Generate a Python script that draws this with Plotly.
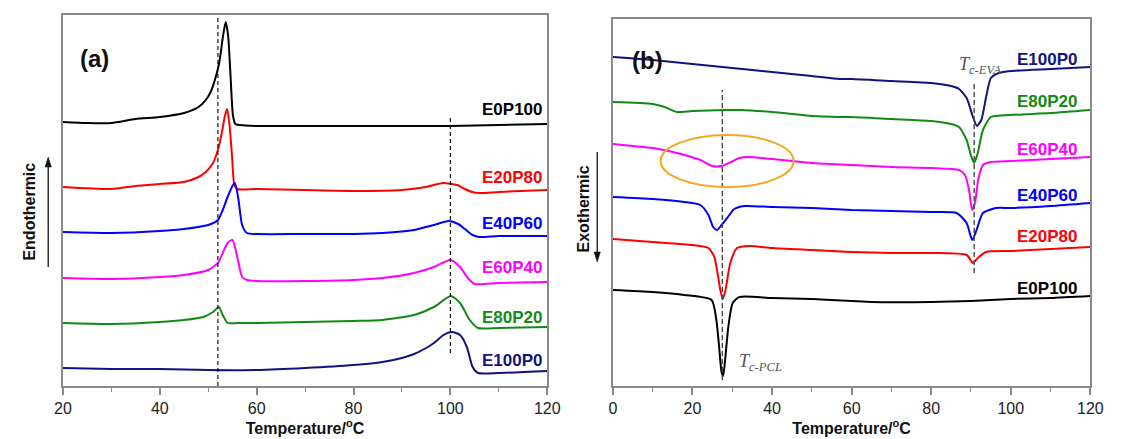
import plotly.graph_objects as go

# ---------------- Panel (a): heating (melting) curves ----------------
a_T_E0P100 = [20, 25, 30, 35, 40, 45, 48, 49.5, 50.5, 51.5, 52.3, 53, 53.6, 54.1, 54.6, 55.1, 55.6, 56.5, 60, 70, 80, 90, 100, 110, 120]
a_H_E0P100 = [264, 263, 263, 267, 269, 273, 279, 286, 294, 308, 324, 348, 364, 351, 311, 271, 262, 261, 260, 260, 260, 260, 260, 261, 262]

a_T_E20P80 = [20, 30, 35, 40, 45, 48, 49.5, 51, 52, 52.8, 53.4, 53.9, 54.4, 54.9, 55.4, 56, 60, 70, 80, 90, 95, 98.5, 101.4, 103, 104.5, 106, 110, 120]
a_H_E20P80 = [199, 197, 200, 202, 204, 209, 214, 223, 236, 253, 269, 277, 261, 231, 201, 197, 197, 196, 195, 196, 199, 203, 201, 197, 194, 193, 194, 196]

a_T_E40P60 = [20, 30, 40, 45, 50, 52, 53, 54, 55, 55.5, 56.2, 57, 58, 60, 70, 80, 86, 92.5, 96.6, 99.6, 101.6, 103, 104.6, 106, 110, 120]
a_H_E40P60 = [154, 153, 155, 157, 161, 166, 176, 189, 200, 203, 188, 161, 153, 152, 152, 152, 153, 156, 161, 165, 162, 157, 151, 149, 150, 150]

a_T_E60P40 = [20, 30, 40, 45, 50, 52, 53, 54, 55, 56, 57, 58, 60, 70, 80, 86, 92.5, 96.6, 100, 102, 103.6, 105, 110, 120]
a_H_E60P40 = [108, 107, 109, 111, 116, 123, 133, 143, 146, 129, 109, 106, 105, 105, 106, 108, 113, 119, 126, 119, 108, 102, 103, 104]

a_T_E80P20 = [20, 30, 40, 45, 49, 51, 52.2, 53, 54, 56, 60, 70, 80, 86, 92.5, 96.6, 100.1, 102, 104, 105.7, 110, 120]
a_H_E80P20 = [63, 62, 64, 66, 69, 74, 79, 71, 63, 63, 63, 64, 65, 66, 71, 79, 90, 83, 66, 58, 58, 59]

a_T_E100P0 = [20, 30, 40, 50, 60, 70, 80, 86, 90, 92.5, 95, 96.6, 98.6, 100.3, 102, 103.4, 104.6, 105.7, 110, 120]
a_H_E100P0 = [18, 17, 17, 16, 16, 18, 21, 24, 28, 32, 38, 43, 51, 54, 51, 39, 19, 13, 13, 15]

# ---------------- Panel (b): cooling (crystallization) curves ----------------
b_T_E100P0 = [0, 10, 20, 30, 40, 50, 57, 60, 70, 80, 85, 87, 88.9, 90.5, 91.5, 92.6, 93.8, 95, 97, 100, 110, 120]
b_H_E100P0 = [329, 326, 322, 318, 314, 310, 307, 307, 305, 303, 300, 297, 288, 269, 260, 266, 289, 308, 313, 315, 317, 319]

b_T_E80P20 = [0, 10, 13, 16, 20, 28, 32, 40, 50, 57, 60, 70, 80, 85, 87, 88.9, 90.1, 90.8, 91.7, 93, 95, 100, 110, 120]
b_H_E80P20 = [284, 282, 279, 274, 275, 276, 276, 274, 270, 269, 269, 267, 265, 262, 259, 246, 229, 223, 233, 256, 269, 271, 273, 276]

b_T_E60P40 = [0, 5, 10, 15, 18, 22, 25, 27.3, 29.7, 31.8, 34, 40, 45, 50, 60, 70, 80, 87, 88.5, 89.5, 90.3, 91, 91.8, 93, 95, 100, 110, 120]
b_H_E60P40 = [242, 240, 238, 234, 231, 226, 220, 220, 224, 228, 229, 227, 225, 223, 221, 219, 218, 216, 211, 196, 176, 183, 206, 221, 224, 225, 227, 229]

b_T_E40P60 = [0, 10, 18, 22, 24, 25.2, 26.2, 27.3, 28.9, 30.5, 33, 40, 50, 60, 70, 80, 86.4, 88.9, 90.3, 91.4, 93, 96.3, 100, 110, 120]
b_H_E40P60 = [189, 187, 184, 181, 171, 159, 156, 161, 169, 177, 180, 179, 178, 176, 175, 174, 173, 163, 146, 156, 173, 178, 178, 180, 183]

b_T_E20P80 = [0, 10, 20, 24, 25.5, 26.3, 27, 27.6, 28.3, 29.5, 31.2, 34.4, 40, 50, 60, 70, 80, 88.9, 90.5, 91.7, 93.8, 100, 110, 120]
b_H_E20P80 = [147, 144, 141, 138, 129, 113, 96, 87, 96, 123, 138, 140, 138, 136, 134, 133, 133, 131, 123, 128, 134, 135, 137, 139]

b_T_E0P100 = [0, 10, 18, 24.8, 26, 26.7, 27.3, 27.7, 28.2, 29, 30.1, 31.8, 40, 50, 60, 65, 80, 90, 100, 110, 120]
b_H_E0P100 = [96, 94, 91, 86, 66, 39, 14, 10, 26, 59, 83, 89, 88, 87, 85, 84, 84, 85, 87, 88, 90]

# reference (dashed) lines: temperature, y-start, y-end
a_ref_T = [52, 100]
a_ref_y = [[0, 371], [33, 271]]
b_ref_T = [27.5, 90.8]
b_ref_y = [[6, 296], [113, 303]]

# label positions (heat-flow level of each series label)
names = ["E0P100", "E20P80", "E40P60", "E60P40", "E80P20", "E100P0"]
colors = ["#000000", "#ff0000", "#0000ff", "#ff00ff", "#138a13", "#13137f"]
a_label_y = [276, 209, 163, 119, 69, 26]
b_label_y = [98, 149, 190, 236, 284, 326]

a_series = [(a_T_E0P100, a_H_E0P100), (a_T_E20P80, a_H_E20P80), (a_T_E40P60, a_H_E40P60),
            (a_T_E60P40, a_H_E60P40), (a_T_E80P20, a_H_E80P20), (a_T_E100P0, a_H_E100P0)]
b_series = [(b_T_E0P100, b_H_E0P100), (b_T_E20P80, b_H_E20P80), (b_T_E40P60, b_H_E40P60),
            (b_T_E60P40, b_H_E60P40), (b_T_E80P20, b_H_E80P20), (b_T_E100P0, b_H_E100P0)]

W, H = 1121, 439
fig = go.Figure()

for (t, h), c in zip(a_series, colors):
    fig.add_trace(go.Scatter(x=t, y=h, mode="lines", line=dict(color=c, width=2, shape="spline", smoothing=0.6),
                             xaxis="x", yaxis="y", showlegend=False))
for (t, h), c in zip(b_series, colors):
    fig.add_trace(go.Scatter(x=t, y=h, mode="lines", line=dict(color=c, width=2, shape="spline", smoothing=0.6),
                             xaxis="x2", yaxis="y2", showlegend=False))

for t, yy in zip(a_ref_T, a_ref_y):
    fig.add_trace(go.Scatter(x=[t, t], y=yy, mode="lines", line=dict(color="#111", width=1.2, dash="4px,3px"),
                             xaxis="x", yaxis="y", showlegend=False))
for t, yy in zip(b_ref_T, b_ref_y):
    fig.add_trace(go.Scatter(x=[t, t], y=yy, mode="lines", line=dict(color="#444", width=1.4, dash="5px,3px"),
                             xaxis="x2", yaxis="y2", showlegend=False))

axis_col = "#8a8a8a"
common_x = dict(showline=True, linecolor=axis_col, linewidth=1.5, mirror=True, ticks="outside", ticklen=7,
                tickcolor=axis_col, tickwidth=1.5, dtick=20, showgrid=False, zeroline=False,
                tickfont=dict(family="Liberation Sans", size=16, color="#222"),
                minor=dict(dtick=10, ticks="outside", ticklen=4, tickcolor=axis_col, tickwidth=1.2),
                title=dict(text="<b>Temperature/<sup>o</sup>C</b>", font=dict(family="Liberation Sans", size=16, color="#111"), standoff=2))
common_y = dict(showline=True, linecolor=axis_col, linewidth=1.5, mirror=True, ticks="", showticklabels=False,
                showgrid=False, zeroline=False)

fig.update_layout(
    width=W, height=H, margin=dict(l=0, r=0, t=0, b=0),
    paper_bgcolor="white", plot_bgcolor="white",
    xaxis=dict(domain=[55 / W, 549 / W], range=[20, 120], tick0=20, anchor="y", **common_x),
    yaxis=dict(domain=[1 - 386 / H, 1 - 15 / H], range=[0, 371], anchor="x", **common_y),
    xaxis2=dict(domain=[616 / W, 1103 / W], range=[0, 120], tick0=0, anchor="y2", **common_x),
    yaxis2=dict(domain=[1 - 386 / H, 1 - 19 / H], range=[0, 367], anchor="x2", **common_y),
)

ann = []
lab_font = "Liberation Sans"
for n, c, y in zip(names, colors, a_label_y):
    ann.append(dict(x=120, y=y, xref="x", yref="y", text="<b>%s</b>" % n, showarrow=False, xanchor="right",
                    xshift=-2, font=dict(family=lab_font, size=17, color=c)))
for n, c, y in zip(names, colors, b_label_y):
    ann.append(dict(x=117.4, y=y, xref="x2", yref="y2", text="<b>%s</b>" % n, showarrow=False, xanchor="right",
                    font=dict(family=lab_font, size=17, color=c)))

ann.append(dict(x=70 / W, y=1 - 43 / H, xref="paper", yref="paper", text="<b>(a)</b>", showarrow=False,
                xanchor="left", font=dict(family=lab_font, size=24, color="#111")))
ann.append(dict(x=633 / W, y=1 - 45 / H, xref="paper", yref="paper", text="<b>(b)</b>", showarrow=False,
                xanchor="left", font=dict(family=lab_font, size=24, color="#111")))

ann.append(dict(x=21 / W, y=1 - 212 / H, xref="paper", yref="paper", text="<b>Endothermic</b>", textangle=-90,
                xanchor="center", yanchor="middle",
                showarrow=False, font=dict(family=lab_font, size=16, color="#111")))
ann.append(dict(x=585 / W, y=1 - 209 / H, xref="paper", yref="paper", text="<b>Exothermic</b>", textangle=-90,
                xanchor="center", yanchor="middle",
                showarrow=False, font=dict(family=lab_font, size=16, color="#111")))

serif = "Liberation Serif"
ann.append(dict(x=86.6, y=320, xref="x2", yref="y2", text="<i>T</i><sub><i>c-EVA</i></sub>", showarrow=False,
                xanchor="left", font=dict(family=serif, size=18, color="#555")))
ann.append(dict(x=31.2, y=24, xref="x2", yref="y2", text="<i>T</i><sub><i>c-PCL</i></sub>", showarrow=False,
                xanchor="left", font=dict(family=serif, size=18, color="#555")))

fig.update_layout(annotations=ann)


def px(x):
    return x / W


def py(y):
    return 1 - y / H


# arrows beside the y titles (shaft + head), in paper coordinates
shapes = []
shapes.append(dict(type="line", xref="paper", yref="paper", x0=px(40), x1=px(40), y0=py(267), y1=py(164),
                   line=dict(color="#111", width=1.3)))
shapes.append(dict(type="path", xref="paper", yref="paper",
                   path="M %f,%f L %f,%f L %f,%f Z" % (px(40), py(157), px(36.8), py(167), px(43.2), py(167)),
                   fillcolor="#111", line=dict(color="#111", width=0.5)))
shapes.append(dict(type="line", xref="paper", yref="paper", x0=px(600), x1=px(600), y0=py(152), y1=py(255),
                   line=dict(color="#111", width=1.3)))
shapes.append(dict(type="path", xref="paper", yref="paper",
                   path="M %f,%f L %f,%f L %f,%f Z" % (px(600), py(262), px(596.8), py(252), px(603.2), py(252)),
                   fillcolor="#111", line=dict(color="#111", width=0.5)))
# highlight ellipse around the weak PCL crystallization in E60P40
shapes.append(dict(type="circle", xref="x2", yref="y2", x0=12, x1=45.4, y0=199, y1=251,
                   line=dict(color="#f5a81c", width=2)))
fig.update_layout(shapes=shapes)

fig.write_html("out.html")
